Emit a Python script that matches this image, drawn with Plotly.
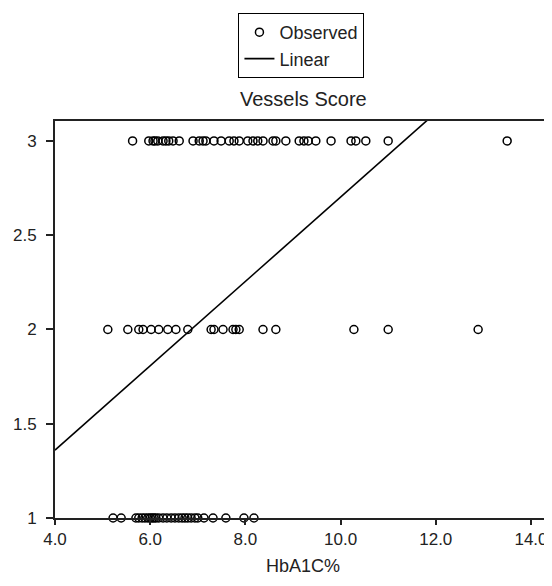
import plotly.graph_objects as go

score3_x = [5.63, 5.97, 6.06, 6.10, 6.16, 6.27, 6.33, 6.39, 6.48, 6.61, 6.90, 7.03, 7.11,
            7.17, 7.34, 7.49, 7.66, 7.76, 7.87, 8.05, 8.16, 8.26, 8.37, 8.58, 8.64, 8.85,
            9.13, 9.23, 9.32, 9.48, 9.80, 10.22, 10.32, 10.53, 11.0, 13.5]
score2_x = [5.11, 5.53, 5.76, 5.85, 6.02, 6.18, 6.37, 6.54, 6.79, 7.28, 7.34, 7.53, 7.74,
            7.80, 7.87, 8.37, 8.64, 10.28, 11.0, 12.89]
score1_x = [5.22, 5.39, 5.70, 5.76, 5.83, 5.89, 5.95, 6.00, 6.04, 6.08, 6.12, 6.18, 6.27,
            6.35, 6.44, 6.52, 6.60, 6.67, 6.73, 6.79, 6.86, 6.94, 7.00, 7.13, 7.32, 7.59,
            7.97, 8.18]
linear_x = [4.0, 12.0]
linear_y = [1.36, 3.15]
x_tickvals = [4, 6, 8, 10, 12, 14]
x_ticktext = ["4.0", "6.0", "8.0", "10.0", "12.0", "14.0"]
y_tickvals = [1, 1.5, 2, 2.5, 3]
y_ticktext = ["1", "1.5", "2", "2.5", "3"]

obs_x = score3_x + score2_x + score1_x
obs_y = [3] * len(score3_x) + [2] * len(score2_x) + [1] * len(score1_x)

FONT = "Liberation Sans, Arial, sans-serif"
INK = "#222222"

fig = go.Figure()
fig.add_trace(go.Scatter(
    x=obs_x, y=obs_y, mode="markers", name="Observed",
    marker=dict(symbol="circle-open", size=8, color="black", line=dict(width=1.5, color="black")),
    cliponaxis=False,
))
fig.add_trace(go.Scatter(
    x=linear_x, y=linear_y, mode="lines", name="Linear",
    line=dict(color="black", width=1.6),
))

fig.update_layout(
    width=552, height=586,
    margin=dict(l=47, r=0, t=113, b=76),
    paper_bgcolor="white", plot_bgcolor="white",
    font=dict(family=FONT, size=17, color=INK),
    showlegend=True,
    legend=dict(
        x=0.488, xanchor="center", y=1.272, yanchor="top",
        bordercolor="black", borderwidth=1, bgcolor="white",
        font=dict(family=FONT, size=18, color=INK),
        itemwidth=30, tracegroupgap=0,
    ),
    title=dict(text="Vessels Score", x=0.535, xref="container", xanchor="center",
               y=0.845, yref="container", yanchor="middle",
               font=dict(family=FONT, size=20, color=INK)),
)
fig.update_xaxes(
    range=[4.0, 14.61], tickvals=x_tickvals, ticktext=x_ticktext,
    showgrid=False, zeroline=False,
    showline=True, linecolor=INK, linewidth=2, mirror=True,
    ticks="outside", ticklen=5, tickwidth=1.5, tickcolor=INK,
    tickfont=dict(family=FONT, size=17, color=INK),
)
fig.update_yaxes(
    range=[1.0, 3.106], tickvals=y_tickvals, ticktext=y_ticktext,
    showgrid=False, zeroline=False,
    showline=True, linecolor=INK, linewidth=2,
    ticks="outside", ticklen=7, tickwidth=1.5, tickcolor=INK,
    ticklabelstandoff=6,
    tickfont=dict(family=FONT, size=17, color=INK),
)
fig.add_annotation(text="HbA1C%", x=0.491, xref="paper", y=-0.121, yref="paper",
                   yanchor="middle", showarrow=False,
                   font=dict(family=FONT, size=18, color=INK))

fig.write_html("out.html")
